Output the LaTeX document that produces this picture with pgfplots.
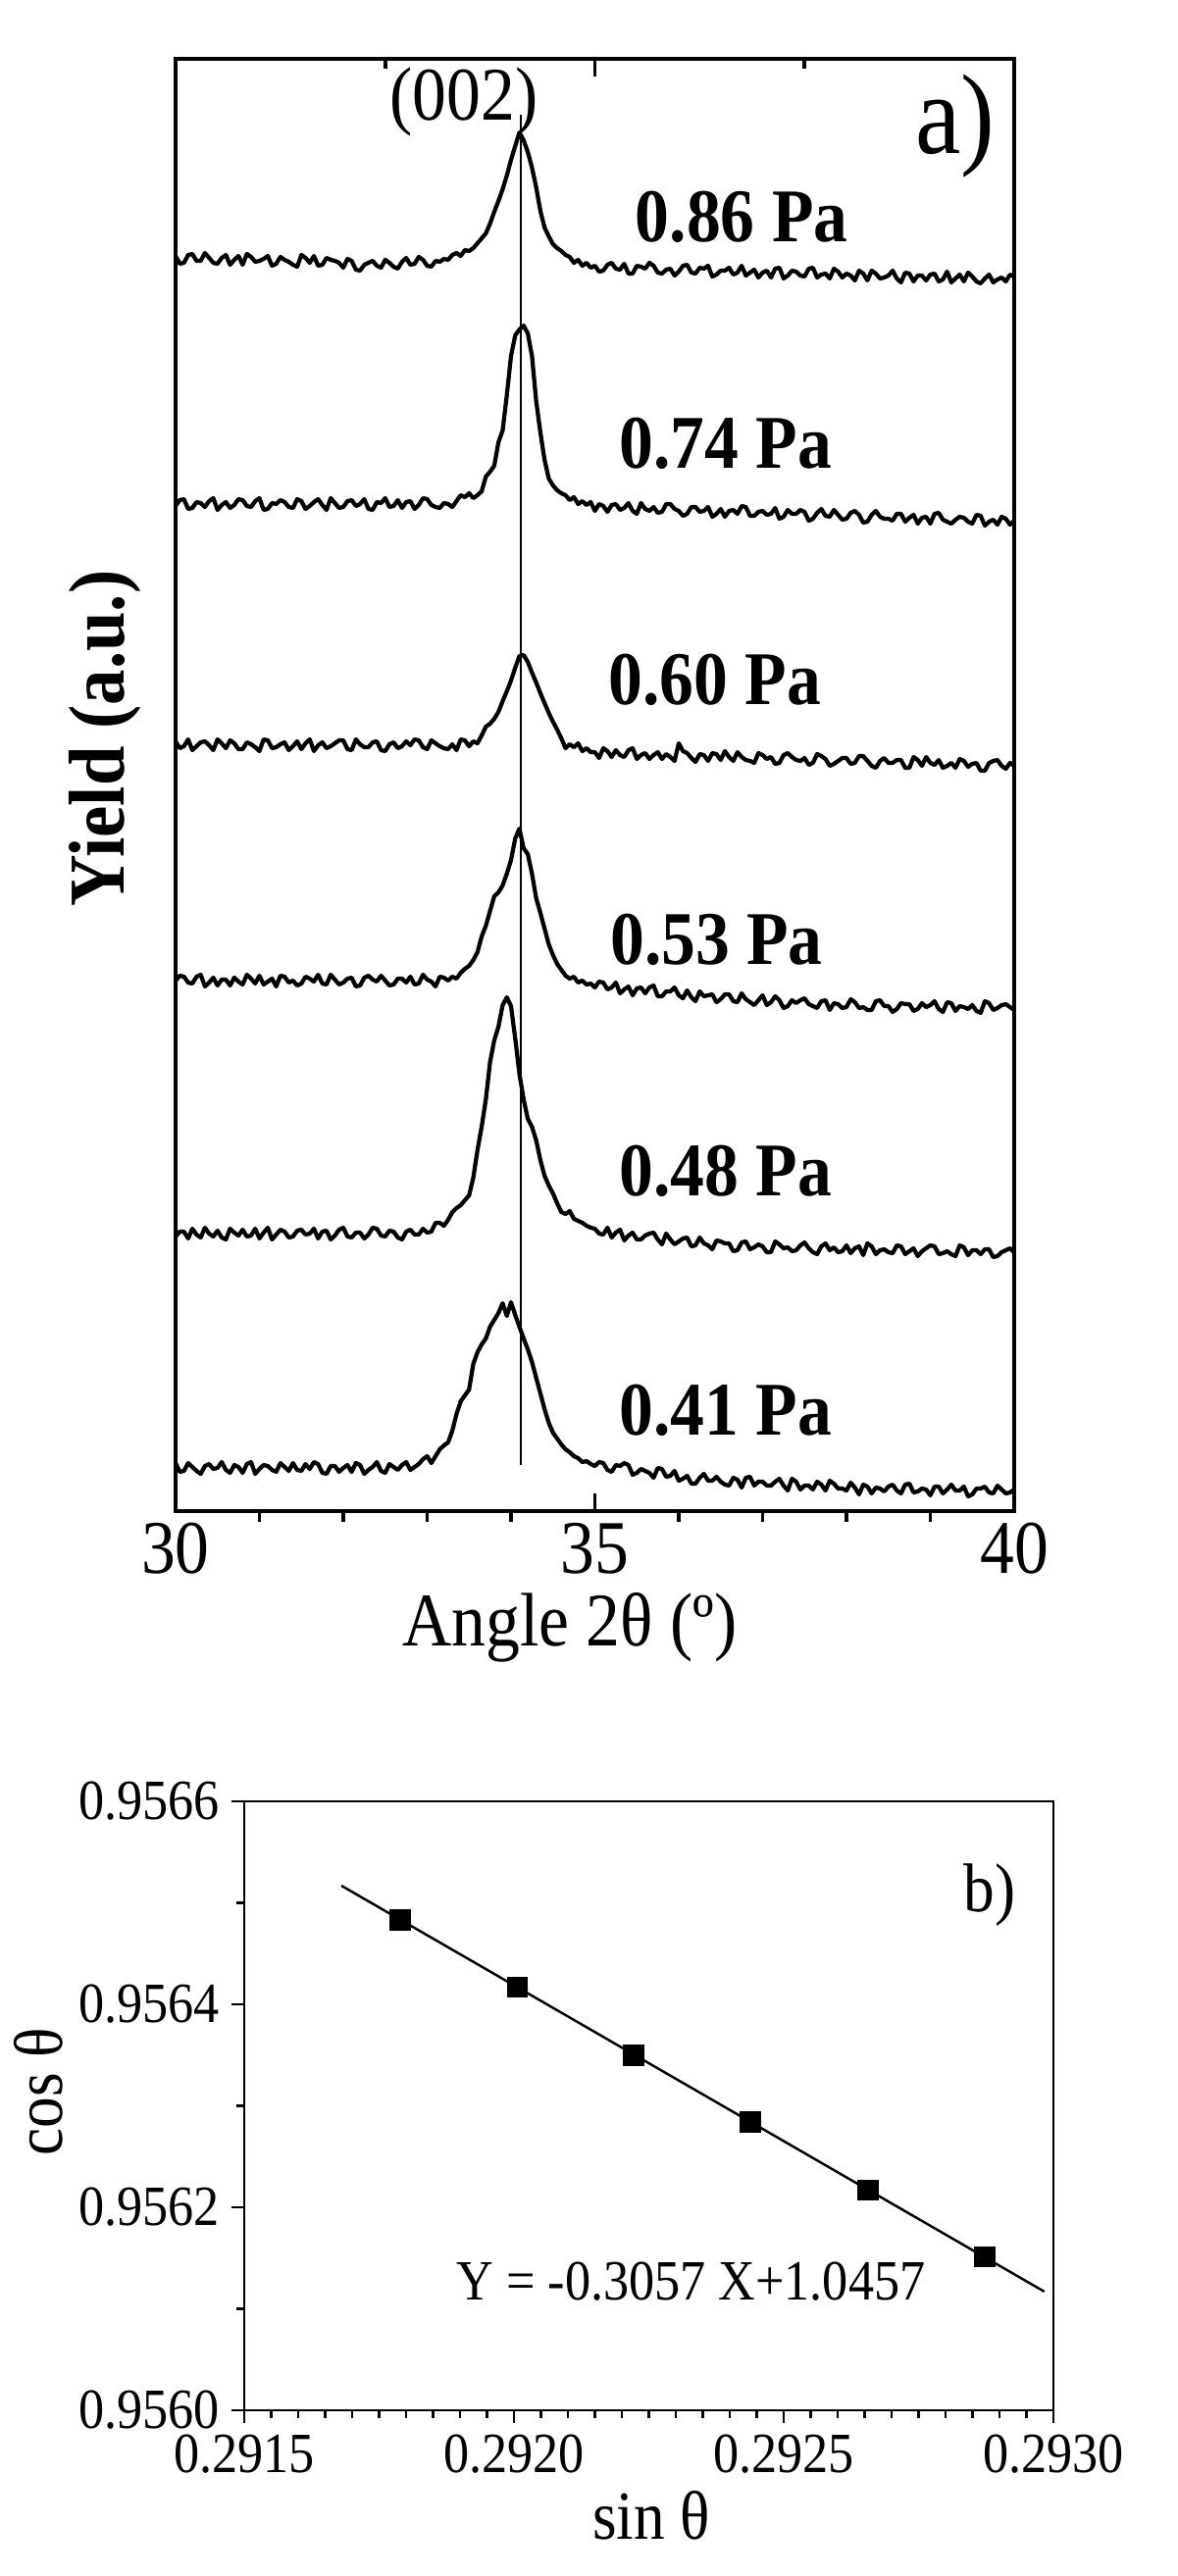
\documentclass[border=0pt]{standalone}
\usepackage{fontspec}
\setmainfont{Liberation Serif}[FakeStretch=0.9]
\usepackage{pgfplots}
\usepackage{pgfplotstable}
\pgfplotsset{compat=1.18}

% XRD patterns, offset by hand (y in arbitrary units)
\pgfplotstableread{
x c1 c2 c3 c4 c5 c6
30.0 1280 1025 785 541 280 49
30.05 1272 1031 778 546 285 40
30.1 1273 1032 780 545 285 41
30.15 1281 1022 787 539 278 49
30.2 1282 1023 776 538 288 45
30.25 1275 1029 780 545 282 41
30.3 1275 1028 784 547 279 38
30.35 1283 1024 785 535 289 46
30.4 1278 1030 781 539 283 48
30.45 1273 1033 776 544 280 43
30.5 1272 1021 787 536 286 44
30.55 1278 1026 783 542 279 50
30.6 1281 1029 778 542 277 42
30.65 1271 1023 786 536 288 39
30.7 1276 1026 783 544 284 47
30.75 1280 1032 777 540 281 45
30.8 1271 1031 777 537 287 39
30.85 1282 1025 784 547 280 48
30.9 1279 1024 782 543 281 50
30.95 1274 1030 779 538 288 38
31.0 1275 1033 775 546 278 43
31.05 1277 1021 787 537 284 47
31.1 1280 1022 786 540 289 46
31.15 1270 1028 778 543 277 42
31.2 1272 1027 779 535 282 40
31.25 1279 1031 782 546 287 49
31.3 1276 1029 784 545 285 45
31.35 1274 1024 776 539 279 41
31.4 1271 1023 780 541 280 49
31.45 1269 1032 785 536 286 42
31.5 1281 1030 777 538 287 41
31.55 1278 1022 783 545 282 48
31.6 1273 1025 787 543 283 43
31.65 1280 1029 775 540 288 50
31.7 1270 1032 781 547 278 48
31.75 1271 1026 784 538 285 39
31.8 1278 1021 778 537 286 38
31.85 1276 1033 780 547 277 46
31.9 1275 1028 783 542 281 46
31.95 1273 1023 786 537 287 40
32.0 1268 1024 786 539 289 44
32.05 1277 1030 777 543 280 47
32.1 1275 1031 776 544 279 40
32.15 1266 1025 787 535 284 49
32.2 1265 1027 782 536 284 47
32.25 1271 1032 779 544 278 38
32.3 1273 1022 779 546 282 42
32.35 1275 1021 784 542 289 45
32.4 1270 1029 785 540 288 50
32.45 1268 1028 776 546 281 41
32.5 1276 1033 775 541 280 39
32.55 1273 1024 782 536 286 48
32.6 1269 1025 784 537 285 45
32.65 1267 1031 778 543 279 42
32.7 1274 1023 780 543 277 47
32.75 1278 1029 785 539 285 50
32.8 1271 1030 781 545 287 42
32.85 1272 1022 787 537 282 45
32.9 1279 1026 786 538 282 48
32.95 1276 1033 779 547 288 53
33.0 1270 1032 777 542 284 56
33.05 1269 1026 786 540 285 49
33.1 1275 1024 783 535 294 56
33.15 1274 1023 780 545 294 63
33.2 1277 1028 778 544 291 67
33.25 1276 1027 777 541 297 70
33.30 1281 1024 782 545 305 82
33.35 1283 1030 776 543 309 99
33.40 1280 1036 787 549 312 112
33.45 1286 1034 786 553 317 118
33.50 1285 1038 780 556 322 124
33.55 1288 1033 785 562 340 150
33.60 1293 1036 783 570 368 162
33.65 1298 1040 791 586 392 170
33.70 1303 1055 800 597 420 176
33.75 1313 1060 803 612 458 188
33.80 1325 1066 808 627 480 195
33.85 1336 1090 815 631 494 202
33.90 1348 1102 826 638 516 212
33.95 1362 1138 836 650 524 199
34.00 1378 1178 847 664 515 213
34.05 1392 1199 860 686 482 200
34.10 1406 1205 872 696 446 188
34.15 1398 1209 873 676 420 176
34.20 1386 1201 866 670 400 165
34.25 1370 1178 855 650 392 152
34.30 1350 1132 845 625 378 136
34.35 1326 1100 834 610 358 120
34.40 1309 1072 824 594 342 104
34.45 1300 1053 814 578 332 90
34.50 1292 1046 805 567 324 80
34.55 1288 1041 797 558 314 74
34.60 1285 1038 788 552 305 68
34.65 1281 1036 778 546 303 63
34.70 1279 1031 782 543 306 60
34.75 1273 1034 779 545 298 56
34.80 1276 1027 783 539 296 54
34.85 1270 1030 775 541 294 50
34.90 1273 1026 778 537 291 51
34.95 1268 1029 774 538 289 48
35.0 1270 1020 774 534 288 46
35.05 1264 1027 768 540 283 50
35.1 1265 1025 778 539 282 49
35.15 1271 1019 775 532 289 42
35.2 1273 1026 769 534 279 40
35.25 1267 1027 776 539 284 47
35.3 1266 1021 771 528 287 46
35.35 1272 1023 769 532 276 49
35.4 1262 1028 776 535 281 47
35.45 1262 1020 778 526 284 37
35.5 1270 1017 767 533 277 39
35.55 1269 1028 771 534 277 43
35.6 1267 1022 773 528 281 41
35.65 1273 1020 767 534 283 39
35.7 1270 1024 771 536 284 34
35.75 1263 1018 774 525 277 44
35.8 1262 1019 767 525 272 43
35.85 1266 1027 772 530 283 35
35.9 1267 1027 769 530 277 36
35.95 1260 1022 765 534 272 41
36.0 1264 1020 783 526 275 31
36.05 1270 1015 775 523 278 33
36.1 1271 1017 773 531 279 36
36.15 1263 1024 768 524 270 28
36.2 1262 1024 764 520 271 28
36.25 1268 1019 772 530 279 34
36.3 1267 1020 771 525 273 38
36.35 1270 1024 765 526 271 31
36.4 1259 1014 773 527 267 31
36.45 1261 1017 772 519 276 35
36.5 1265 1022 766 522 275 30
36.55 1265 1014 775 527 273 27
36.6 1268 1020 769 527 273 26
36.65 1261 1021 765 520 265 34
36.7 1263 1017 774 519 266 32
36.75 1270 1025 769 528 274 24
36.8 1260 1024 766 522 275 34
36.85 1263 1015 765 519 267 35
36.9 1266 1015 763 516 269 26
36.95 1258 1019 773 521 272 30
37.0 1263 1020 771 526 270 30
37.05 1265 1016 767 516 264 26
37.1 1258 1017 769 519 264 26
37.15 1267 1023 762 525 275 30
37.2 1268 1012 763 521 272 33
37.25 1257 1014 771 513 268 26
37.3 1260 1021 773 515 269 21
37.35 1265 1017 769 521 265 33
37.4 1264 1017 766 518 266 30
37.45 1260 1021 765 521 271 22
37.5 1259 1019 768 523 274 26
37.55 1267 1010 761 517 268 26
37.6 1268 1012 763 515 264 22
37.65 1258 1018 772 513 262 30
37.7 1261 1022 770 520 270 27
37.75 1262 1015 767 521 273 21
37.8 1257 1014 760 511 266 31
37.85 1267 1021 762 518 269 28
37.9 1264 1016 765 517 264 23
37.95 1258 1011 768 513 265 23
38.0 1262 1012 768 514 271 21
38.05 1260 1018 762 522 263 29
38.1 1255 1020 763 519 268 24
38.15 1265 1016 770 513 270 17
38.2 1262 1008 770 514 261 27
38.25 1255 1009 765 511 273 25
38.3 1265 1016 760 511 270 18
38.35 1262 1020 758 520 262 24
38.4 1257 1014 765 521 266 23
38.45 1258 1012 768 515 267 20
38.5 1260 1012 763 515 264 25
38.55 1265 1010 763 509 263 27
38.6 1257 1017 766 512 271 21
38.65 1253 1017 766 518 270 18
38.7 1263 1009 758 517 262 27
38.75 1262 1013 758 517 265 28
38.8 1254 1016 769 510 268 19
38.85 1260 1007 766 512 260 20
38.9 1260 1013 760 518 265 23
38.95 1255 1014 769 514 268 22
39.0 1261 1007 763 516 271 16
39.05 1262 1017 761 520 270 25
39.1 1254 1018 766 512 262 25
39.15 1256 1011 758 509 263 18
39.2 1264 1009 760 519 265 22
39.25 1253 1007 763 518 262 27
39.3 1257 1011 758 510 260 21
39.35 1261 1014 767 515 271 21
39.4 1254 1013 765 514 269 25
39.45 1263 1009 759 512 261 15
39.5 1259 1007 762 516 266 17
39.55 1254 1016 763 510 266 23
39.6 1252 1015 755 508 262 23
39.65 1257 1005 755 520 267 25
39.7 1261 1009 763 518 267 19
39.75 1253 1011 765 511 259 18
39.8 1256 1006 766 513 260 26
39.85 1258 1014 760 516 264 22
39.9 1254 1012 757 517 266 18
39.95 1261 1006 763 514 268 19
40.0 1259 1010 760 511 264 22
}\xrd

% lattice data: sin theta vs cos theta
\pgfplotstableread{
s c
0.291789 0.956483
0.292006 0.956417
0.292222 0.956350
0.292438 0.956284
0.292656 0.956217
0.292873 0.956151
}\lat

\begin{document}
\begin{tikzpicture}
\useasboundingbox (0,0) rectangle (12,-26.27);

% ---- panel a) ----
\begin{axis}[
    at={(1.79cm,-15.41cm)}, anchor=south west,
    width=8.55cm, height=14.81cm, scale only axis,
    xmin=30, xmax=40, ymin=0, ymax=1481,
    xtick={30,35,40}, xtick pos=left, ytick=\empty,
    tick align=inside, major tick length=0.18cm,
    tick style={line width=1.1pt, black},
    axis line style={line width=1.1pt},
    /pgf/number format/assume math mode=true,
    ticklabel style={font=\fontsize{22}{26}\selectfont},
    xlabel={Angle 2θ (º)},
    xlabel style={at={(axis description cs:0.47,-0.08)}, anchor=center,
        font=\fontsize{22}{26}\selectfont},
    ylabel={Yield (a.u.)},
    ylabel style={at={(axis description cs:-0.084,0.532)}, anchor=center,
        font=\bfseries\fontsize{23}{27}\selectfont},
]
\addplot[black, line width=1.2pt, line join=round] table[x=x, y=c1] {\xrd};
\addplot[black, line width=1.2pt, line join=round] table[x=x, y=c2] {\xrd};
\addplot[black, line width=1.2pt, line join=round] table[x=x, y=c3] {\xrd};
\addplot[black, line width=1.2pt, line join=round] table[x=x, y=c4] {\xrd};
\addplot[black, line width=1.2pt, line join=round] table[x=x, y=c5] {\xrd};
\addplot[black, line width=1.2pt, line join=round] table[x=x, y=c6] {\xrd};
\addplot[black, line width=0.5pt] coordinates {(34.12,47) (34.12,1424)};

\node[font=\fontsize{22}{26}\selectfont] at (axis cs:33.44,1437) {(002)};
\node[font=\fontsize{33}{38}\selectfont] at (axis cs:39.3,1412) {a)};
\node[font=\bfseries\fontsize{22}{26}\selectfont] at (axis cs:36.75,1320) {0.86 Pa};
\node[font=\bfseries\fontsize{22}{26}\selectfont] at (axis cs:36.56,1089) {0.74 Pa};
\node[font=\bfseries\fontsize{22}{26}\selectfont] at (axis cs:36.43,848) {0.60 Pa};
\node[font=\bfseries\fontsize{22}{26}\selectfont] at (axis cs:36.45,583) {0.53 Pa};
\node[font=\bfseries\fontsize{22}{26}\selectfont] at (axis cs:36.56,347) {0.48 Pa};
\node[font=\bfseries\fontsize{22}{26}\selectfont] at (axis cs:36.56,103) {0.41 Pa};
\end{axis}

% minor ticks on the bottom edge point outwards
\begin{axis}[
    at={(1.79cm,-15.41cm)}, anchor=south west,
    width=8.55cm, height=14.81cm, scale only axis,
    xmin=30, xmax=40, ymin=0, ymax=1481,
    axis x line*=bottom, axis y line=none,
    xtick={31,32,33,34,36,37,38,39}, xticklabels={}, ytick=\empty,
    tick align=outside, major tick length=0.11cm,
    tick style={line width=1.1pt, black},
    axis line style={line width=1.1pt},
]
\end{axis}

% ticks on the top edge
\begin{axis}[
    at={(1.79cm,-15.41cm)}, anchor=south west,
    width=8.55cm, height=14.81cm, scale only axis,
    xmin=30, xmax=40, ymin=0, ymax=1481,
    axis x line*=top, axis y line=none,
    xtick={35}, minor xtick={32.5,37.5}, xticklabels={}, ytick=\empty,
    tick align=inside, major tick length=0.18cm, minor tick length=0.10cm,
    tick style={line width=1.1pt, black},
    axis line style={line width=1.1pt},
]
\end{axis}

% ---- panel b) ----
\begin{axis}[
    at={(2.49cm,-24.58cm)}, anchor=south west,
    width=8.25cm, height=6.21cm, scale only axis,
    xmin=0.2915, xmax=0.2930, ymin=0.9560, ymax=0.9566,
    xtick={0.2915,0.2920,0.2925,0.2930},
    ytick={0.9560,0.9562,0.9564,0.9566},
    minor x tick num=9, minor y tick num=1,
    xtick pos=left, ytick pos=left,
    tick align=outside, major tick length=0.13cm, minor tick length=0.08cm,
    tick style={line width=0.8pt, black},
    axis line style={line width=0.8pt},
    scaled ticks=false,
    xticklabel style={/pgf/number format/.cd, fixed, fixed zerofill, precision=4},
    yticklabel style={/pgf/number format/.cd, fixed, fixed zerofill, precision=4},
    /pgf/number format/assume math mode=true,
    ticklabel style={font=\fontsize{16.5}{20}\selectfont},
    xlabel={sin θ},
    xlabel style={at={(axis description cs:0.503,-0.172)}, anchor=center,
        font=\fontsize{20}{24}\selectfont},
    ylabel={cos θ},
    ylabel style={at={(axis description cs:-0.2545,0.523)}, anchor=center,
        font=\fontsize{20}{24}\selectfont},
]
\addplot[black, line width=0.7pt] coordinates {(0.29168,0.956517) (0.292983,0.956117)};
\addplot[black, only marks, mark=square*, mark size=2.85pt] table[x=s, y=c] {\lat};
\node[font=\fontsize{16.5}{20}\selectfont] at (axis cs:0.292328,0.956127) {Y = -0.3057 X+1.0457};
\node[font=\fontsize{20}{24}\selectfont] at (axis cs:0.292882,0.956508) {b)};
\end{axis}
\end{tikzpicture}
\end{document}
